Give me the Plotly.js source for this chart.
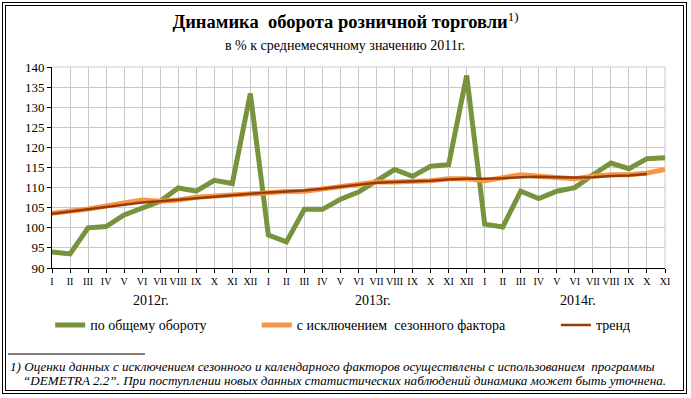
<!DOCTYPE html>
<html>
<head>
<meta charset="utf-8">
<script src="https://cdn.plot.ly/plotly-3.0.1.min.js"></script>
<style>
html,body{margin:0;padding:0;background:#fff;}
#wrap{position:relative;width:691px;height:398px;}
#chart{position:absolute;left:0;top:0;width:691px;height:398px;}
#frame{position:absolute;left:2px;top:2px;width:685px;height:392px;border:4px double #000;box-sizing:border-box;pointer-events:none;}
</style>
</head>
<body>
<div id="wrap"><div id="chart"></div><div id="frame"></div></div>
<script>
// Months (Roman numerals), three years: 2012 I–XII, 2013 I–XII, 2014 I–XI
const months = ["I","II","III","IV","V","VI","VII","VIII","IX","X","XI","XII",
                "I","II","III","IV","V","VI","VII","VIII","IX","X","XI","XII",
                "I","II","III","IV","V","VI","VII","VIII","IX","X","XI"];
const years = ["2012г.","2013г.","2014г."];
const yearPos = [5.5, 17.8, 29.2];

// по общему обороту
const total = [94.0, 93.5, 100.0, 100.3, 103.2, 104.8, 106.6, 109.9, 109.1, 111.8, 111.0, 133.4,
               98.2, 96.5, 104.6, 104.6, 107.1, 108.9, 111.7, 114.5, 112.8, 115.3, 115.7, 137.9,
               100.9, 100.2, 109.1, 107.3, 109.1, 110.0, 113.2, 116.1, 114.7, 117.2, 117.4];
// с исключением сезонного фактора
const seasonal = [103.6, 104.0, 104.7, 105.4, 106.0, 106.9, 106.6, 106.9, 107.6, 107.9, 108.0, 108.6,
                  108.9, 109.0, 109.1, 109.7, 110.1, 110.8, 111.4, 111.4, 111.4, 111.7, 112.2, 112.2,
                  111.7, 112.6, 113.2, 112.8, 112.4, 112.2, 112.8, 113.2, 113.2, 113.6, 114.5];
// тренд
const trend = [103.5, 104.0, 104.6, 105.2, 105.8, 106.3, 106.6, 107.0, 107.4, 107.8, 108.1, 108.5,
               108.8, 109.0, 109.3, 109.7, 110.2, 110.7, 111.2, 111.4, 111.5, 111.7, 112.0, 112.2,
               112.2, 112.3, 112.6, 112.7, 112.6, 112.5, 112.6, 112.9, 113.0, 113.4, null];

const names = ["по общему обороту", "с исключением  сезонного фактора", "тренд"];
const idx = months.map((m, i) => i);

const serif = "'Liberation Serif', 'DejaVu Serif', serif";

const traces = [
  {x: idx, y: total, type: "scatter", mode: "lines", name: names[0],
   line: {color: "#77933c", width: 5}, legend: "legend"},
  {x: idx, y: seasonal, type: "scatter", mode: "lines", name: names[1],
   line: {color: "#f79646", width: 5}, legend: "legend2"},
  {x: idx, y: trend, type: "scatter", mode: "lines", name: names[2],
   line: {color: "#983c07", width: 2.5}, legend: "legend3", connectgaps: false}
];

const legendBase = {orientation: "h", yanchor: "middle", y: -0.285, xanchor: "left",
  font: {family: serif, size: 14, color: "#000"}, bgcolor: "rgba(0,0,0,0)", borderwidth: 0};

const annotations = years.map((t, i) => ({
  text: t, x: yearPos[i], xref: "x", y: -0.164, yref: "paper", yanchor: "middle", showarrow: false,
  font: {family: serif, size: 14, color: "#000"}
}));
annotations.push({
  text: "в % к среднемесячному значению 2011г.", xref: "paper", x: 0.478, y: 1.109, yref: "paper",
  yanchor: "middle", showarrow: false, font: {family: serif, size: 14, color: "#000"}
});
annotations.push({
  text: "<i>1) Оценки данных с исключением сезонного и календарного факторов осуществлены с использованием  программы</i>",
  xref: "paper", x: -0.0718, xanchor: "left", y: -0.4876, yref: "paper", yanchor: "middle", showarrow: false,
  font: {family: serif, size: 13.1, color: "#000"}
});
annotations.push({
  text: "<i>“DEMETRA 2.2”. При поступлении новых данных статистических наблюдений динамика может быть уточнена.</i>",
  xref: "paper", x: -0.0506, xanchor: "left", y: -0.562, yref: "paper", yanchor: "middle", showarrow: false,
  font: {family: serif, size: 13.1, color: "#000"}
});

const layout = {
  width: 691, height: 398,
  margin: {l: 52, r: 26, t: 67, b: 130},
  paper_bgcolor: "#fff", plot_bgcolor: "#fff",
  title: {text: "<b>Динамика  оборота розничной торговли</b><sup>1)</sup>", x: 0.5, xref: "container",
          y: 0.945, yref: "container", yanchor: "middle",
          font: {family: serif, size: 18.5, color: "#000"}},
  xaxis: {tickmode: "array", tickvals: idx, ticktext: months, range: [0, 34], tickangle: 0,
          showgrid: true, gridcolor: "#c8c8c8", gridwidth: 1,
          showline: true, linecolor: "#000", linewidth: 1,
          ticks: "outside", ticklen: 4, tickcolor: "#000",
          tickfont: {family: serif, size: 10, color: "#000"}, zeroline: false, fixedrange: true},
  yaxis: {range: [90, 140], tickmode: "array", tickvals: [90,95,100,105,110,115,120,125,130,135,140],
          showgrid: true, gridcolor: "#c8c8c8", gridwidth: 1,
          showline: true, linecolor: "#000", linewidth: 1,
          ticks: "outside", ticklen: 4, tickcolor: "#000",
          tickfont: {family: serif, size: 13, color: "#000"}, zeroline: false, fixedrange: true},
  legend: Object.assign({}, legendBase, {x: -0.003}),
  legend2: Object.assign({}, legendBase, {x: 0.334}),
  legend3: Object.assign({}, legendBase, {x: 0.822}),
  annotations: annotations,
  shapes: [
    {type: "line", xref: "paper", yref: "paper", x0: -0.0718, x1: 0.1517, y0: -0.428, y1: -0.428,
     line: {color: "#000", width: 1}},
    {type: "line", xref: "paper", yref: "paper", x0: 0, x1: 1, y0: 1, y1: 1,
     line: {color: "#c8c8c8", width: 1}, layer: "below"},
    {type: "line", xref: "paper", yref: "paper", x0: 1, x1: 1, y0: 0, y1: 1,
     line: {color: "#c8c8c8", width: 1}, layer: "below"}
  ],
  showlegend: true
};

Plotly.newPlot("chart", traces, layout, {displayModeBar: false, staticPlot: true});
</script>
</body>
</html>
